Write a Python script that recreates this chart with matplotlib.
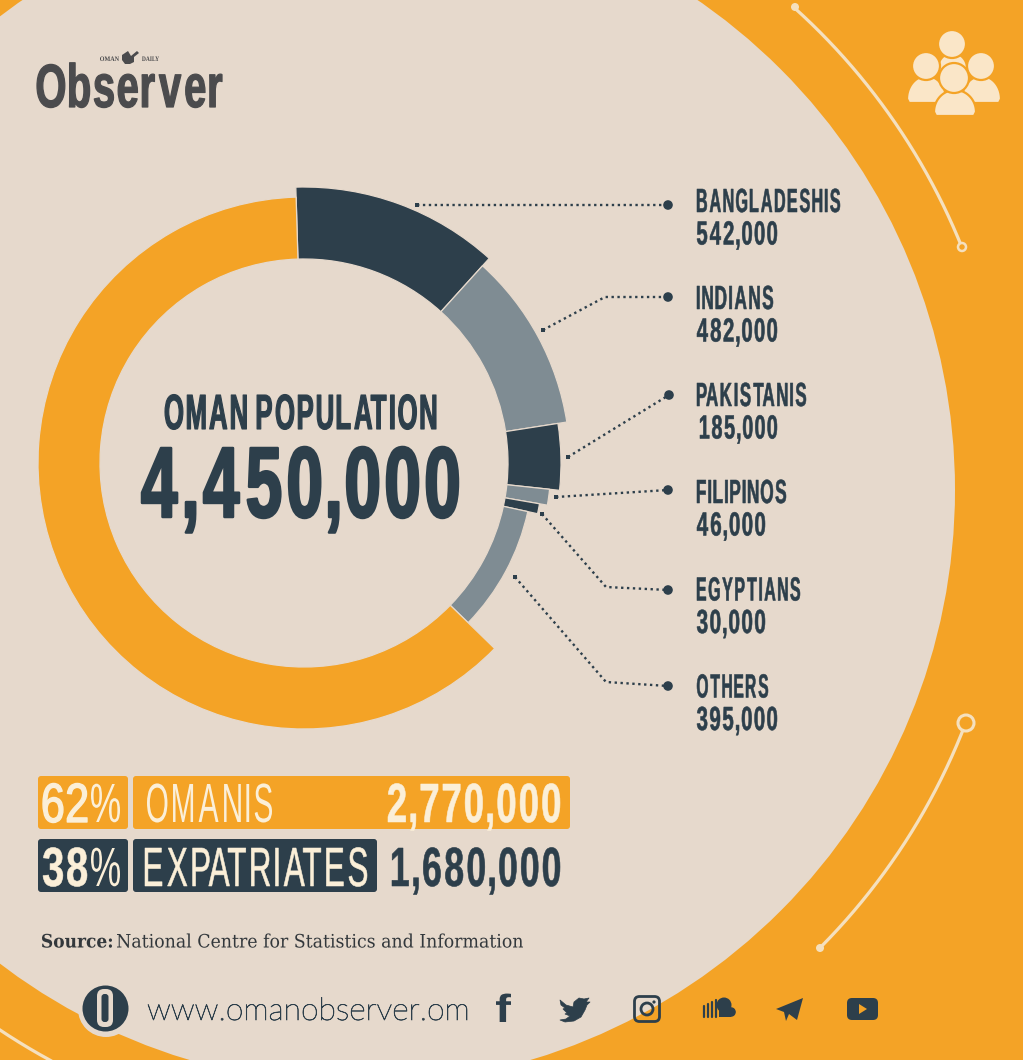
import numpy as np
import matplotlib
matplotlib.use("Agg")
import matplotlib.pyplot as plt
from matplotlib.font_manager import FontProperties
from matplotlib.patches import Circle, FancyBboxPatch, Polygon, Rectangle
from matplotlib.path import Path
from matplotlib.patheffects import AbstractPathEffect
from matplotlib.textpath import TextPath
from matplotlib.transforms import Affine2D

# ---------- data ----------
TITLE = "OMAN POPULATION"
TOTAL = 4450000
groups = ["BANGLADESHIS", "INDIANS", "PAKISTANIS", "FILIPINOS", "EGYPTIANS", "OTHERS"]
group_values = [542000, 482000, 185000, 46000, 30000, 395000]
omani_value = 2770000
omani_share = 62
expat_value = 1680000
expat_share = 38

# ---------- styling ----------
ORANGE = "#F4A326"
BEIGE = "#E6D9CC"
DARK = "#2D3F4B"
GREY = "#7F8C93"
CREAM = "#FBEFD8"
LINE = "#F5E0BE"
LOGO = "#4B4B4D"
segment_colors = [DARK, GREY, DARK, GREY, DARK, GREY, ORANGE]
segment_radii = [276, 266, 257, 247, 239, 229, 266]
INNER = 204
CX, CY = 304, 463
W, H = 1023, 1060


def even_out(path, g):
    """Sets an even gap between glyphs, as a display face has; word gaps stay."""
    if g is None:
        return path
    v = np.array(path.vertices, dtype=float)
    c = np.array(path.codes)
    starts = list(np.nonzero(c == Path.MOVETO)[0]) + [len(c)]
    spans = []
    for a, b in zip(starts[:-1], starts[1:]):
        m = c[a:b] != Path.CLOSEPOLY
        xs = v[a:b, 0][m]
        spans.append([xs.min(), xs.max(), a, b])
    spans.sort(key=lambda s: s[0])
    clusters = []
    for s in spans:
        if clusters and s[0] < clusters[-1][1]:
            clusters[-1][1] = max(clusters[-1][1], s[1])
            clusters[-1][2].append((s[2], s[3]))
        else:
            clusters.append([s[0], s[1], [(s[2], s[3])]])
    med = np.median([cl[1] - cl[0] for cl in clusters])
    cursor = clusters[0][0]
    prev_hi = None
    for lo, hi, parts in clusters:
        if prev_hi is not None:
            gap = lo - prev_hi
            cursor += gap if gap > 0.38 * med else g * med
        for a, b in parts:
            m = c[a:b] != Path.CLOSEPOLY
            seg = v[a:b, 0]
            seg[m] = seg[m] - lo + cursor
        cursor += hi - lo
        prev_hi = hi
    return Path(v, c)


class Tall(AbstractPathEffect):
    """Draws real text taller than its size, which gives the condensed look."""
    def __init__(self, sy, y0, stroke=0.0, g=None):
        super().__init__()
        self.sy, self.y0, self.stroke, self.g = sy, y0, stroke, g

    def draw_path(self, renderer, gc, tpath, affine, rgbFace=None):
        tr = affine + Affine2D().translate(0, -self.y0).scale(1, self.sy).translate(0, self.y0)
        g = renderer.new_gc()
        g.copy_properties(gc)
        if self.stroke > 0 and rgbFace is not None:
            g.set_foreground(rgbFace)
            g.set_linewidth(self.stroke)
            g.set_joinstyle("round")
        else:
            g.set_linewidth(0)
        renderer.draw_path(g, even_out(tpath, self.g), tr, rgbFace)
        g.restore()


def fit(s, x0, x1, top, base, color=DARK, weight="bold", stroke=0.0, family="Liberation Sans", g=None, z=5):
    fp = FontProperties(family=family, weight=weight)
    box = even_out(TextPath((0, 0), s, size=100, prop=fp), g).get_extents()
    h100 = TextPath((0, 0), "H", size=100, prop=fp).get_extents().height
    size_px = 100 * (x1 - x0) / box.width
    sy = (base - top) / (h100 * size_px / 100)
    fp.set_size(size_px * 0.72)
    x_text = x0 - box.x0 * size_px / 100
    t = ax.text(x_text, base, s, fontproperties=fp, color=color, ha="left", va="baseline", zorder=z,
                clip_on=False)
    t.set_path_effects([Tall(sy, H - base, stroke, g)])
    return t


fig = plt.figure(figsize=(W / 100, H / 100), dpi=100)
fig.patch.set_facecolor(ORANGE)
ax = fig.add_axes([0, 0, 1, 1], zorder=1)
ax.set_xlim(0, W)
ax.set_ylim(H, 0)
ax.axis("off")

# background disc and the thin concentric arcs
BX, BY = 360, 490
ax.add_patch(Circle((BX, BY), 595, fc=BEIGE, ec="none", zorder=1))


def arc(p, q):
    a = np.arctan2(p[1] - BY, p[0] - BX)
    b = np.arctan2(q[1] - BY, q[0] - BX)
    th = np.linspace(a, b, 200)
    ax.plot(BX + 649 * np.cos(th), BY + 649 * np.sin(th), color=LINE, lw=2.3, zorder=2,
            solid_capstyle="round")


arc((795, 7), (962, 247))
ax.add_patch(Circle((795, 7), 4, fc=LINE, ec="none", zorder=3))
ax.add_patch(Circle((962, 247), 4, fc=ORANGE, ec=LINE, lw=1.8, zorder=3))
arc((966, 723), (820, 948))
ax.add_patch(Circle((966, 723), 8, fc=ORANGE, ec=LINE, lw=2.2, zorder=3))
ax.add_patch(Circle((820, 948), 4, fc=LINE, ec="none", zorder=3))
arc((-4, 1027), (56, 1064))

# people icon
PC = "#FAE6C8"


def person(hx, hy, hr, bx0, bx1, by0, by1, z):
    mid, a = (bx0 + bx1) / 2, (bx1 - bx0) / 2
    th = np.linspace(np.pi, 2 * np.pi, 40)
    dome = np.column_stack([mid + a * np.cos(th), by1 - 4 + (by1 - 4 - by0) * np.sin(th)])
    foot = [(bx1 - 2, by1), (bx0 + 2, by1)]
    ax.add_patch(Polygon(np.vstack([dome, foot]), fc=PC, ec=ORANGE, lw=1.6, joinstyle="round", zorder=z))
    ax.add_patch(Circle((hx, hy), hr, fc=PC, ec=ORANGE, lw=1.6, zorder=z))


person(952, 44, 14, 938, 967, 53, 72, 4)
person(926, 66, 14, 907, 946, 76, 103, 5)
person(981, 66, 14, 962, 1001, 76, 103, 5)
person(954, 78, 15, 934, 976, 90, 116, 6)

# publisher logo
fit("Observer", 37, 222, 65, 107, color=LOGO, stroke=0.9, g=0.24, z=5)
fit("OMAN", 100, 119, 56.5, 61, color=LOGO, family="Liberation Serif")
fit("DAILY", 142, 159, 56.5, 61, color=LOGO, family="Liberation Serif")
ax.add_patch(Polygon([(122, 55), (128, 51), (131, 56), (137, 51), (139, 53), (134, 57), (134, 62),
                      (130, 64), (125, 64), (122, 60)], fc=LOGO, ec="none", zorder=5))

# centre text
fit(TITLE, 165, 436, 395, 429, stroke=0.8, g=0.28)
fit(f"{TOTAL:,}", 142, 458, 448, 517, stroke=1.8, g=0.28)

# leader lines
leaders = [
    [(417, 205), (668, 205)],
    [(543, 330), (605, 297), (668, 297)],
    [(568, 457), (669, 395)],
    [(556, 497), (668, 490)],
    [(542, 514), (606, 587), (668, 590)],
    [(515, 577), (606, 682), (668, 686)],
]
for pts in leaders:
    xs, ys = zip(*pts)
    ax.plot(xs, ys, color=DARK, lw=1.7, ls=(0, (1, 1.5)), zorder=4)
    ax.add_patch(Rectangle((xs[0] - 2, ys[0] - 2), 4, 4, fc=DARK, ec="none", zorder=4))
    ax.add_patch(Circle((xs[-1], ys[-1]), 4.8, fc=DARK, ec="none", zorder=4))

# labels
name_rows = [200.5, 297.5, 394.5, 491.5, 589, 686]
name_right = [840, 773, 806, 786, 800, 768]
value_left = [697, 697, 700, 697, 697, 697]
value_right = [777, 777, 777, 765, 765, 777]
for i, name in enumerate(groups):
    yc = name_rows[i]
    fit(name, 697, name_right[i], yc - 11.5, yc + 11.5, stroke=0.4, g=0.3)
    fit(f"{group_values[i]:,}", value_left[i], value_right[i], yc + 21, yc + 44, stroke=0.4, g=0.3)


# share bars
def bar(x0, x1, y0, y1, color):
    ax.add_patch(FancyBboxPatch((x0, y0), x1 - x0, y1 - y0, boxstyle="round,pad=0,rounding_size=3",
                                fc=color, ec="none", zorder=3))


bar(38, 128, 776, 829, ORANGE)
bar(133, 570, 776, 829, ORANGE)
bar(38, 128, 839, 892, DARK)
bar(133, 377, 839, 892, DARK)
fit(f"{omani_share}", 43, 87, 784, 822, color=CREAM, weight="normal", stroke=1.0, g=0.22)
fit("%", 91, 120, 784, 822, color=CREAM, weight="normal")
fit("OMANIS", 147, 272, 784, 822, color=CREAM, weight="normal", g=0.3)
fit(f"{omani_value:,}", 388, 560, 784, 822, color=CREAM, stroke=0.4, g=0.28)
fit(f"{expat_share}", 43, 87, 848, 886, color=CREAM, stroke=0.4, g=0.22)
fit("%", 91, 120, 848, 886, color=CREAM, weight="normal")
fit("EXPATRIATES", 145, 367, 848, 886, color=CREAM, weight="normal", stroke=0.4, g=0.3)
fit(f"{expat_value:,}", 392, 560, 848, 886, color=DARK, stroke=0.4, g=0.28)

# source
fit("Source:", 42, 112, 934, 947.5, color="#33383C", family="DejaVu Serif")
fit("National Centre for Statistics and Information", 117, 523, 934, 947.5, color="#33383C",
    weight="normal", family="DejaVu Serif")

# footer
ax.add_patch(Circle((106, 1009), 28, fc=BEIGE, ec="none", zorder=3))
ax.add_patch(Circle((105.5, 1008.5), 23, fc=DARK, ec="none", zorder=4))
ax.add_patch(FancyBboxPatch((97, 989), 16, 38, boxstyle="round,pad=0,rounding_size=7", fc=BEIGE, ec="none", zorder=5))
ax.add_patch(FancyBboxPatch((101.5, 994), 7, 28, boxstyle="round,pad=0,rounding_size=3", fc=DARK, ec="none", zorder=6))
fit("www.omanobserver.om", 148, 467, 998, 1020, color=DARK, weight="light", stroke=0.5, family="Lato")

fit("f", 496, 511, 995, 1022, color=DARK, family="Liberation Sans")
ax.add_patch(Polygon([(560, 1000), (566, 1005), (573, 1007), (574, 1002), (579, 998), (584, 999), (589, 998),
                      (586, 1002), (590, 1002), (587, 1005), (585, 1010), (581, 1017), (574, 1021), (565, 1022),
                      (560, 1020), (566, 1019), (570, 1016), (565, 1014), (567, 1013), (563, 1009), (565, 1008),
                      (561, 1005)], fc=DARK, ec=DARK, lw=0.5, joinstyle="round", zorder=5))
ax.add_patch(FancyBboxPatch((634.5, 996.5), 25, 25, boxstyle="round,pad=0,rounding_size=5", fc="none", ec=DARK, lw=2.0, zorder=5))
ax.add_patch(Circle((647, 1009), 6, fc="none", ec=DARK, lw=2.0, zorder=5))
ax.add_patch(Circle((654, 1002), 1.6, fc=DARK, ec="none", zorder=5))
for bx, top in zip([704, 708, 712, 716], [1006, 1004, 1002, 1000]):
    ax.plot([bx, bx], [top, 1017], color=DARK, lw=1.6, zorder=5, solid_capstyle="round")
ax.add_patch(Circle((724, 1005), 7.5, fc=DARK, ec="none", zorder=5))
ax.add_patch(Circle((731, 1012), 4.8, fc=DARK, ec="none", zorder=5))
ax.add_patch(Rectangle((719, 1005), 12, 12, fc=DARK, ec="none", zorder=5))
ax.add_patch(Polygon([(776, 1009), (803, 998), (797, 1020), (789, 1014), (786, 1021), (784, 1012)],
                     fc=DARK, ec="none", zorder=5))
ax.add_patch(FancyBboxPatch((847, 998), 31, 22, boxstyle="round,pad=0,rounding_size=5", fc=DARK, ec="none", zorder=5))
ax.add_patch(Polygon([(859, 1004), (867, 1009), (859, 1014)], fc=ORANGE, ec="none", zorder=6))

# donut, drawn last on its own axes with pixel-sized units
S = 300
dax = fig.add_axes([(CX - S) / W, 1 - (CY + S) / H, 2 * S / W, 2 * S / H], zorder=2)
all_values = group_values + [omani_value]
wedges, _ = dax.pie(all_values, colors=segment_colors, startangle=91.7, counterclock=False,
                    wedgeprops=dict(edgecolor=BEIGE, linewidth=0.9))
for w, r in zip(wedges, segment_radii):
    w.set_radius(r)
    w.set_width(r - INNER)
dax.set_xlim(-S, S)
dax.set_ylim(-S, S)
dax.set_aspect("equal")
dax.axis("off")
dax.patch.set_alpha(0)

fig.savefig("out.png", dpi=100, facecolor=ORANGE)
